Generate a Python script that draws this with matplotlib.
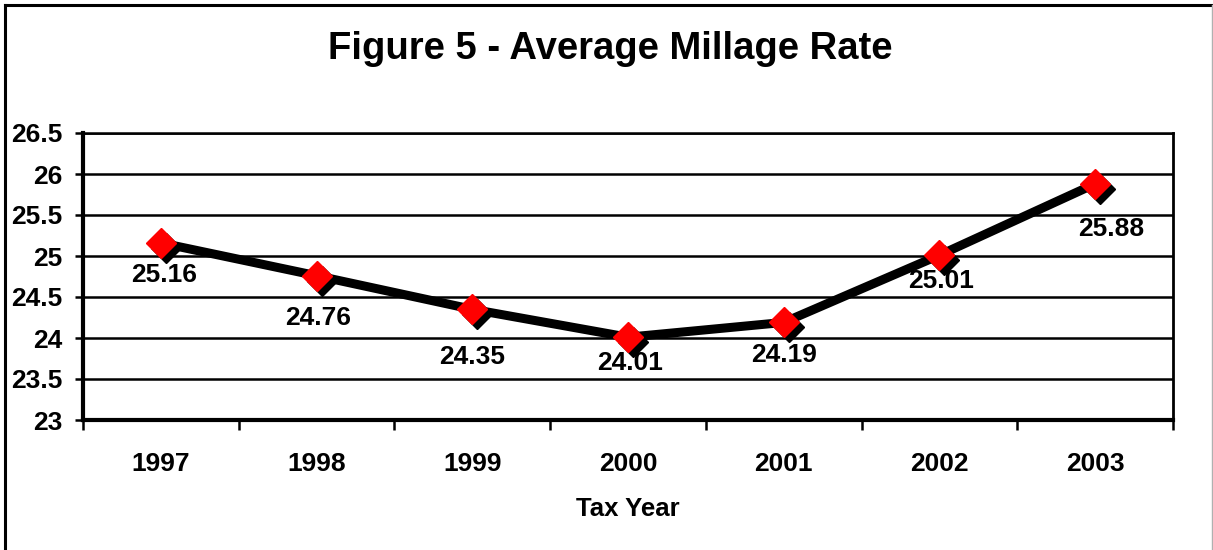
import matplotlib.pyplot as plt
import matplotlib.transforms as mtransforms
import numpy as np
from matplotlib.lines import Line2D

plt.rcParams['font.family'] = ['Liberation Sans', 'DejaVu Sans']
plt.rcParams['font.weight'] = 'bold'

years = ['1997', '1998', '1999', '2000', '2001', '2002', '2003']
rates = [25.16, 24.76, 24.35, 24.01, 24.19, 25.01, 25.88]

# label offsets in pixels (dx, dy) from each point
label_offsets = [(3, -32), (2, -42), (0, -48), (2, -26), (0, -33), (2, -26), (16, -45)]

W, H = 1213, 550
fig = plt.figure(figsize=(W / 100, H / 100), dpi=100)

# outer frame
fig.add_artist(Line2D([5 / W, 5 / W], [0, 1 - 5 / H], color='black', lw=2.2, transform=fig.transFigure))
fig.add_artist(Line2D([5 / W, 1211.5 / W], [1 - 5 / H, 1 - 5 / H], color='black', lw=2.2, transform=fig.transFigure))
fig.add_artist(Line2D([1211.5 / W, 1211.5 / W], [0, 1 - 5 / H], color='#b0b0b0', lw=1, transform=fig.transFigure))

left, right, top, bottom = 83, 1173, 133, 420
ax = fig.add_axes([left / W, (H - bottom) / H, (right - left) / W, (bottom - top) / H])

x = np.arange(len(years))
ax.set_xlim(-0.5, len(years) - 0.5)
ax.set_ylim(23, 26.5)
ax.set_yticks(np.arange(23, 26.51, 0.5))
ax.set_yticklabels(['23', '23.5', '24', '24.5', '25', '25.5', '26', '26.5'])
ax.yaxis.grid(True, color='black', lw=1.8)
ax.set_axisbelow(True)

ax.set_xticks(x)
ax.set_xticklabels(years)
ax.set_xticks(np.arange(-0.5, len(years)), minor=True)
ax.tick_params(axis='x', which='major', length=0, pad=23, labelsize=19)
ax.tick_params(axis='x', which='minor', length=7, width=1.8, direction='out')
ax.tick_params(axis='y', length=6, width=1.8, direction='out', pad=9, labelsize=19)

for s in ['left', 'bottom']:
    ax.spines[s].set_linewidth(3)
ax.spines['right'].set_linewidth(2)
ax.spines['top'].set_linewidth(1.8)

# marker shadows shifted down-right
shadow = mtransforms.offset_copy(ax.transData, fig=fig, x=5, y=-5, units='dots')
ax.plot(x, rates, ls='none', marker='D', ms=15.5, mfc='black', mec='black',
        transform=shadow, zorder=3)
ax.plot(x, rates, color='black', lw=6.5, zorder=4)
ax.plot(x, rates, ls='none', marker='D', ms=15.5, mfc='#ff0000', mec='#ff0000', zorder=5)

for xi, v, (dx, dy) in zip(x, rates, label_offsets):
    ax.annotate(f'{v:.2f}', (xi, v), xytext=(dx * 0.72, dy * 0.72), textcoords='offset points',
                ha='center', va='center', fontsize=19, fontweight='bold')

ax.set_xlabel('Tax Year', fontsize=18.5, fontweight='bold', labelpad=15)
fig.text(610 / W, 1 - 49 / H, 'Figure 5 - Average Millage Rate', ha='center', va='center',
         fontsize=27.5, fontweight='bold')

fig.savefig('out.png', dpi=100)
